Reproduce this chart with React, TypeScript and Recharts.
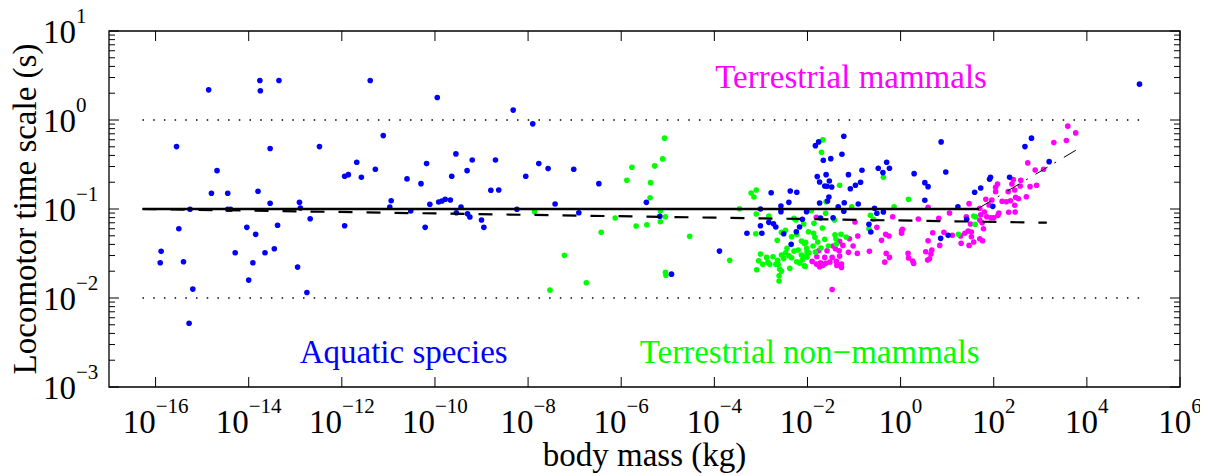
import React from "react";
import { ScatterChart, Scatter, XAxis, YAxis, ReferenceArea, ReferenceDot } from "recharts";

// all points as [log10(body mass, kg), log10(time scale, s)]
const aquatic: [number, number][] = [
  [-14.86, 0.339], [-13.76, 0.444], [-13.75, 0.328], [-13.35, 0.444], [-11.39, 0.444],
  [-15.55, -0.299], [-13.54, -0.321], [-12.48, -0.299], [-11.11, -0.175], [-14.68, -0.569],
  [-11.68, -0.474], [-11.94, -0.632], [-11.86, -0.614], [-11.58, -0.643], [-11.28, -0.553],
  [-10.6, -0.662], [-14.8, -0.823], [-14.45, -0.823], [-13.8, -0.801], [-13.54, -0.936],
  [-12.91, -0.925], [-10.94, -0.907], [-10.97, -0.977], [-15.26, -1.003], [-14.45, -1.003],
  [-14.39, -1.003], [-12.89, -0.989], [-15.5, -1.222], [-14.04, -1.206], [-13.85, -1.285],
  [-13.38, -1.183], [-12.68, -1.109], [-11.94, -1.188], [-15.88, -1.476], [-15.9, -1.604],
  [-15.4, -1.593], [-14.29, -1.492], [-13.91, -1.604], [-13.65, -1.492], [-13.45, -1.447],
  [-12.95, -1.653], [-14.0, -1.799], [-15.2, -1.9], [-12.75, -1.938], [-15.28, -2.283],
  [-9.95, 0.253], [-8.32, 0.111], [-7.9, -0.043], [-9.55, -0.381], [-10.18, -0.49],
  [-9.2, -0.449], [-8.7, -0.449], [-9.31, -0.569], [-9.64, -0.632], [-10.3, -0.715],
  [-7.77, -0.49], [-7.57, -0.546], [-7.02, -0.553], [-8.05, -0.632], [-6.48, -0.715],
  [-8.8, -0.79], [-8.63, -0.786], [-10.11, -0.947], [-9.92, -0.921], [-9.85, -0.91],
  [-9.78, -0.891], [-9.67, -0.899], [-9.44, -0.977], [-9.54, -1.042], [-9.3, -1.053],
  [-9.25, -1.09], [-9.0, -1.124], [-8.95, -1.206], [-10.21, -1.206], [-10.52, -1.023],
  [-8.24, -1.003], [-7.42, -0.944], [-6.91, -1.042], [-5.46, -0.925], [-5.17, -1.082],
  [-4.92, -1.732],
  [-2.78, -0.817], [-2.37, -0.797], [-2.23, -0.812], [-3.01, -1.0], [-2.57, -0.966],
  [-2.4, -0.925], [-2.57, -1.03], [-2.02, -1.03], [-3.01, -1.188], [-2.83, -1.15],
  [-2.73, -1.165], [-2.68, -1.203], [-2.11, -1.116], [-2.17, -1.203], [-2.24, -1.255],
  [-2.51, -1.278], [-3.3, -1.273], [-2.98, -1.273], [-3.89, -1.473], [-2.35, -1.397],
  [-1.22, -0.182], [-1.83, -0.288], [-1.76, -0.246], [-1.26, -0.384], [-1.66, -0.452],
  [-1.5, -0.434], [-1.79, -0.636], [-1.6, -0.614], [-1.74, -0.696], [-1.53, -0.685],
  [-1.63, -0.741], [-1.58, -0.745], [-1.48, -0.752], [-1.12, -0.614], [-0.83, -0.564],
  [-1.08, -0.772], [-0.97, -0.733], [-0.86, -0.7], [-0.3, -0.474], [-0.48, -0.542],
  [-0.24, -0.542], [-0.38, -0.591], [-1.54, -0.865], [-1.57, -0.91], [-1.74, -0.932],
  [-1.34, -0.974], [-1.21, -0.929], [-0.91, -0.944], [-1.72, -1.101], [-1.45, -1.098],
  [-1.22, -1.026], [-0.56, -0.992], [-0.51, -1.048], [-0.37, -1.034], [-0.68, -1.172],
  [-0.64, -1.259],
  [0.87, -0.246], [0.97, -0.584], [0.29, -0.603], [0.52, -0.704], [0.59, -0.749],
  [0.52, -0.902], [1.59, -0.812], [1.72, -0.764], [1.23, -0.974], [1.91, -0.666],
  [1.93, -0.643], [1.98, -0.97], [2.34, -0.643], [2.67, -0.299], [2.81, -0.204],
  [3.19, -0.468], [1.42, -1.116], [1.02, -1.296], [0.86, -1.33], [5.13, 0.403],
];

const nonMammals: [number, number][] = [
  [-5.07, -0.204], [-5.11, -0.437], [-5.77, -0.531], [-5.28, -0.516], [-5.88, -0.677],
  [-5.37, -0.704], [-5.38, -0.873], [-7.86, -1.03], [-6.13, -1.101], [-5.16, -1.023],
  [-5.05, -1.087], [-5.68, -1.191], [-5.45, -1.177], [-5.16, -1.143], [-6.43, -1.262],
  [-4.53, -1.307], [-7.22, -1.521], [-6.75, -1.829], [-7.53, -1.912], [-5.05, -1.712],
  [-5.04, -1.743],
  [-3.21, -0.82], [-3.1, -0.786], [-3.15, -0.865], [-3.46, -0.997], [-3.1, -1.056],
  [-2.83, -1.079], [-2.29, -1.105], [-2.25, -1.124], [-3.11, -1.278], [-2.56, -1.262],
  [-2.47, -1.24], [-2.34, -1.312], [-2.23, -1.285], [-2.65, -1.352], [-3.67, -1.577],
  [-3.09, -1.683], [-3.01, -1.506], [-3.05, -1.582], [-2.88, -1.544], [-2.85, -1.6],
  [-2.96, -1.622], [-2.81, -1.622], [-2.74, -1.537], [-2.64, -1.577], [-2.56, -1.518],
  [-2.51, -1.555], [-2.47, -1.492], [-2.4, -1.526], [-2.44, -1.442], [-2.34, -1.548],
  [-2.23, -1.593], [-2.29, -1.473], [-2.2, -1.461], [-2.13, -1.518], [-2.11, -1.574],
  [-2.01, -1.487], [-2.01, -1.54], [-2.13, -1.36], [-2.04, -1.375], [-2.63, -1.622],
  [-2.6, -1.675], [-2.56, -1.698], [-2.38, -1.667], [-2.61, -1.751], [-2.61, -1.81],
  [-2.05, -1.645], [-2.17, -1.608], [-2.68, -1.622],
  [-1.67, -0.223], [-1.7, -0.362], [-1.31, -0.733], [-0.37, -0.643], [-1.6, -0.918],
  [-1.05, -0.974], [0.17, -0.891], [-0.14, -0.974], [-1.92, -1.019], [-1.61, -1.048],
  [-1.42, -1.124], [-0.65, -1.071], [-0.58, -1.116], [-0.68, -1.222], [-2.08, -1.169],
  [-1.86, -1.161], [-1.68, -1.214], [-1.87, -1.273], [-1.98, -1.255], [-1.41, -1.289],
  [-1.28, -1.285], [-1.39, -1.334], [-1.17, -1.315], [-1.84, -1.318], [-1.78, -1.371],
  [-1.63, -1.341], [-1.71, -1.439], [-1.55, -1.416], [-2.07, -1.386], [-2.02, -1.442],
  [-1.97, -1.492], [-1.83, -1.484], [-2.08, -1.537], [-1.88, -1.416], [-2.07, -1.638],
  [-1.38, -1.394],
  [1.57, -1.079], [1.61, -1.087], [1.6, -1.172], [1.24, -1.285],
];

const mammals: [number, number][] = [
  [-1.81, -1.093], [-0.98, -1.146], [-0.51, -1.206], [-0.17, -1.087], [-0.32, -1.285],
  [-0.25, -1.304], [0.04, -1.228], [-0.92, -1.304], [-1.1, -1.334], [-1.31, -1.364],
  [-1.24, -1.409], [-0.41, -1.352], [-1.45, -1.416], [-1.02, -1.416], [-1.76, -1.469],
  [-1.58, -1.469], [-1.4, -1.447], [-1.32, -1.469], [-1.12, -1.487], [-0.67, -1.476],
  [-0.93, -1.499], [-0.31, -1.499], [0.16, -1.499], [-1.8, -1.537], [-1.63, -1.544],
  [-1.47, -1.544], [-1.31, -1.529], [-0.24, -1.544], [0.17, -1.551], [-1.9, -1.589],
  [-1.81, -1.619], [-1.72, -1.604], [-1.61, -1.611], [-1.52, -1.597], [-1.38, -1.589],
  [-1.27, -1.619], [-0.34, -1.597], [-1.74, -1.649], [-1.67, -1.634], [-1.37, -1.634],
  [-1.27, -1.656], [-1.47, -1.904],
  [3.29, -0.254], [2.73, -0.482], [2.89, -0.561], [3.07, -0.553], [2.08, -0.719],
  [2.04, -0.756], [2.04, -0.805], [2.42, -0.67], [2.39, -0.719], [2.58, -0.677],
  [2.57, -0.741], [2.78, -0.749], [2.92, -0.733], [2.45, -0.786], [2.31, -0.805],
  [2.47, -0.868], [2.53, -0.884], [2.7, -0.862], [2.36, -0.907], [2.27, -0.918],
  [2.18, -0.913], [1.83, -0.891], [1.96, -0.899], [1.9, -0.955], [2.45, -0.958],
  [1.7, -0.992], [1.47, -0.94], [2.46, -1.034], [2.32, -1.037], [2.11, -1.045],
  [2.09, -1.071], [1.8, -1.034], [1.72, -1.064], [1.85, -1.087], [1.94, -1.098],
  [2.0, -1.098], [0.59, -0.981], [1.05, -1.045], [1.41, -1.087], [0.82, -1.105],
  [1.7, -1.124], [1.75, -1.154], [1.5, -1.169], [0.38, -1.113], [1.78, -1.222],
  [1.45, -1.248], [1.52, -1.259], [1.38, -1.273], [1.52, -1.312], [1.29, -1.304],
  [0.69, -1.267], [0.93, -1.262], [1.11, -1.296], [1.7, -1.334], [1.76, -1.357],
  [1.57, -1.371], [1.3, -1.386], [1.47, -1.409], [0.84, -1.409], [0.59, -1.357],
  [0.67, -1.461], [0.54, -1.481], [0.65, -1.506], [0.62, -1.559], [0.58, -1.574],
  [0.28, -1.611], [0.26, -1.585], [0.02, -1.244], [0.02, -1.273],
  [3.59, -0.069], [3.76, -0.145], [3.56, -0.231],
];

// fitted / reference lines, endpoints in the same log10 units
const fitFlat: [number, number][] = [[-16.28, -1.0], [1.68, -1.0]];
const fitAll: [number, number][] = [[-16.28, -1.0], [3.14, -1.154]];
const fitMammals: [number, number][] = [[1.68, -0.99], [3.89, -0.3]];
const upperBound: [number, number][] = [[-16.28, 0], [5.2, 0]];
const lowerBound: [number, number][] = [[-16.28, -2], [5.2, -2]];

const xTickExp = [-16, -14, -12, -10, -8, -6, -4, -2, 0, 2, 4, 6];
const yTickExp = [-3, -2, -1, 0, 1];
const yMinorMult = [2, 3, 4, 5, 6, 7, 8, 9];

const BLUE = "#0000ff";
const GREEN = "#00ff00";
const MAGENTA = "#ff00ff";
const FONT = '"Liberation Serif", "Times New Roman", Times, serif';

const W = 1200;
const H = 468;
const MARGIN = { top: 23, right: 28, bottom: 0, left: 0 };
const Y_W = 101;
const X_H = 89;
const PL = MARGIN.left + Y_W;
const PR = W - MARGIN.right;
const PT = MARGIN.top;
const PB = H - MARGIN.bottom - X_H;

const toPts = (arr: [number, number][]) => arr.map(([m, t]) => ({ x: 10 ** m, y: 10 ** t }));

const xTicks = xTickExp.map((e) => 10 ** e);
const yTicks = [
  ...yTickExp.map((e) => 10 ** e),
  ...yTickExp.slice(0, -1).flatMap((e) => yMinorMult.map((k) => k * 10 ** e)),
];

const supText = (e: number) => (e < 0 ? "\u2212" + -e : String(e));

const XTick = (props: any) => {
  const { x, payload } = props;
  const e = Math.round(Math.log10(payload.value));
  return (
    <g>
      <line x1={x} x2={x} y1={PB} y2={PB - 10} stroke="#000" />
      <line x1={x} x2={x} y1={PT} y2={PT + 10} stroke="#000" />
      <text x={x} y={PB + 46} textAnchor="middle" fontSize={33} fill="#000" fontFamily={FONT}>
        <tspan>10</tspan>
        <tspan fontSize={21} dy={-20}>{supText(e)}</tspan>
      </text>
    </g>
  );
};

const YTick = (props: any) => {
  const { y, payload } = props;
  const lg = Math.log10(payload.value);
  const major = Math.abs(lg - Math.round(lg)) < 1e-6;
  const len = major ? 10 : 6;
  return (
    <g>
      <line x1={PL} x2={PL + len} y1={y} y2={y} stroke="#000" />
      <line x1={PR} x2={PR - len} y1={y} y2={y} stroke="#000" />
      {major && (
        <text x={35} y={y + 11.7} textAnchor="start" fontSize={33} fill="#000" fontFamily={FONT}>
          <tspan>10</tspan>
          <tspan fontSize={21} dy={-20}>{supText(Math.round(lg))}</tspan>
        </text>
      )}
    </g>
  );
};

const dot = (color: string) => (p: any) => <circle cx={p.cx} cy={p.cy} r={2.8} fill={color} />;
const noDot = () => <g />;

const annotation = (text: string, color: string) => ({
  value: text,
  position: "center" as const,
  fill: color,
  fontSize: 33,
  fontFamily: FONT,
});

export default function App() {
  return (
    <div style={{ width: W, height: H, fontFamily: FONT }}>
      <style>{`.recharts-surface { overflow: visible; }`}</style>
      <ScatterChart width={W} height={H} margin={MARGIN}>
        <XAxis
          type="number"
          dataKey="x"
          scale="log"
          domain={[1e-17, 1e6]}
          allowDataOverflow
          ticks={xTicks}
          interval={0}
          height={X_H}
          axisLine={false}
          tickLine={false}
          tick={XTick}
          label={() => (
            <text x={(PL + PR) / 2} y={458} textAnchor="middle" fontSize={33} fill="#000" fontFamily={FONT}>
              body mass (kg)
            </text>
          )}
        />
        <YAxis
          type="number"
          dataKey="y"
          scale="log"
          domain={[1e-3, 10]}
          allowDataOverflow
          ticks={yTicks}
          interval={0}
          width={Y_W}
          axisLine={false}
          tickLine={false}
          tick={YTick}
          label={() => (
            <text
              x={0}
              y={0}
              transform={`translate(28, ${(PT + PB) / 2}) rotate(-90)`}
              textAnchor="middle"
              fontSize={33}
              fill="#000"
              fontFamily={FONT}
            >
              Locomotor time scale (s)
            </text>
          )}
        />

        <Scatter data={toPts(mammals)} fill={MAGENTA} shape={dot(MAGENTA)} isAnimationActive={false} />
        <Scatter data={toPts(nonMammals)} fill={GREEN} shape={dot(GREEN)} isAnimationActive={false} />
        <Scatter data={toPts(aquatic)} fill={BLUE} shape={dot(BLUE)} isAnimationActive={false} />

        <Scatter
          data={toPts(upperBound)}
          shape={noDot}
          line={{ stroke: "#000", strokeWidth: 1.5, strokeDasharray: "1.5 9.2" }}
          isAnimationActive={false}
        />
        <Scatter
          data={toPts(lowerBound)}
          shape={noDot}
          line={{ stroke: "#000", strokeWidth: 1.5, strokeDasharray: "1.5 9.2" }}
          isAnimationActive={false}
        />
        <Scatter
          data={toPts(fitFlat)}
          shape={noDot}
          line={{ stroke: "#000", strokeWidth: 2.4 }}
          isAnimationActive={false}
        />
        <Scatter
          data={toPts(fitAll)}
          shape={noDot}
          line={{ stroke: "#000", strokeWidth: 2.2, strokeDasharray: "14 14" }}
          isAnimationActive={false}
        />
        <Scatter
          data={toPts(fitMammals)}
          shape={noDot}
          line={{ stroke: "#000", strokeWidth: 1, strokeDasharray: "14 8 2 9" }}
          isAnimationActive={false}
        />

        <ReferenceDot x={0.0865} y={3.09} r={0} fill="none" stroke="none" label={annotation("Terrestrial mammals", MAGENTA)} />
        <ReferenceDot x={2.13e-11} y={0.00255} r={0} fill="none" stroke="none" label={annotation("Aquatic species", BLUE)} />
        <ReferenceDot x={0.0111} y={0.00255} r={0} fill="none" stroke="none" label={annotation("Terrestrial non\u2212mammals", GREEN)} />

        <ReferenceArea
          x1={1e-17}
          x2={1e6}
          y1={1e-3}
          y2={10}
          fill="none"
          stroke="#000"
          strokeWidth={1.3}
          ifOverflow="visible"
        />
      </ScatterChart>
    </div>
  );
}
